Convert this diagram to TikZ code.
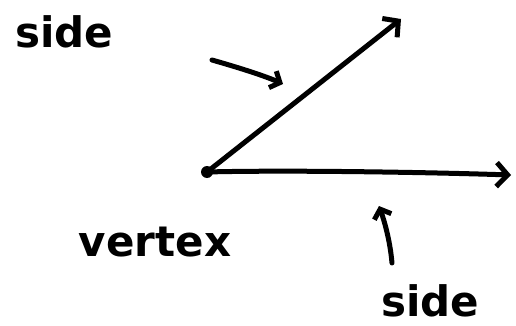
\documentclass[tikz,border=0pt]{standalone}
\usepackage{fontspec}
\setmainfont{DejaVu Sans}
\usetikzlibrary{arrows.meta}
\tikzset{
  pen/.style={line width=5pt, line cap=round, line join=round},
  barb/.style={-{Straight Barb[length=11pt,width=24pt,line width=5pt]}},
  smallbarb/.style={-{Straight Barb[length=8pt,width=18pt,line width=5pt]}},
  lbl/.style={font=\bfseries\fontsize{42}{48}\selectfont, anchor=base, inner sep=0pt, text depth=0pt},
  dot/.style={circle, fill=black, minimum size=12pt, inner sep=0pt}
}
\begin{document}
\begin{tikzpicture}[x=1pt,y=-1pt]
\useasboundingbox (0,0) rectangle (516,326);
\node[dot] (v) at (207,172) {};
\coordinate (t1) at (401,19);
\coordinate (t2) at (511,175);
\draw[pen,barb] (v.center) -- (t1);
\draw[pen,barb] (v.center) .. controls (280,170) and (420,172) .. (t2);
\node[lbl] (s1) at (64,48) {side};
\node[lbl] (vx) at (155,256) {vertex};
\node[lbl] (s2) at (430,316) {side};
\coordinate (a1) at (212,60);
\coordinate (a2) at (283,84);
\draw[pen,smallbarb] (a1) .. controls (240,68) and (265,76) .. (a2);
\coordinate (b1) at (392,263);
\coordinate (b2) at (379,206);
\draw[pen,smallbarb] (b1) .. controls (390,240) and (384,220) .. (b2);
\end{tikzpicture}
\end{document}
